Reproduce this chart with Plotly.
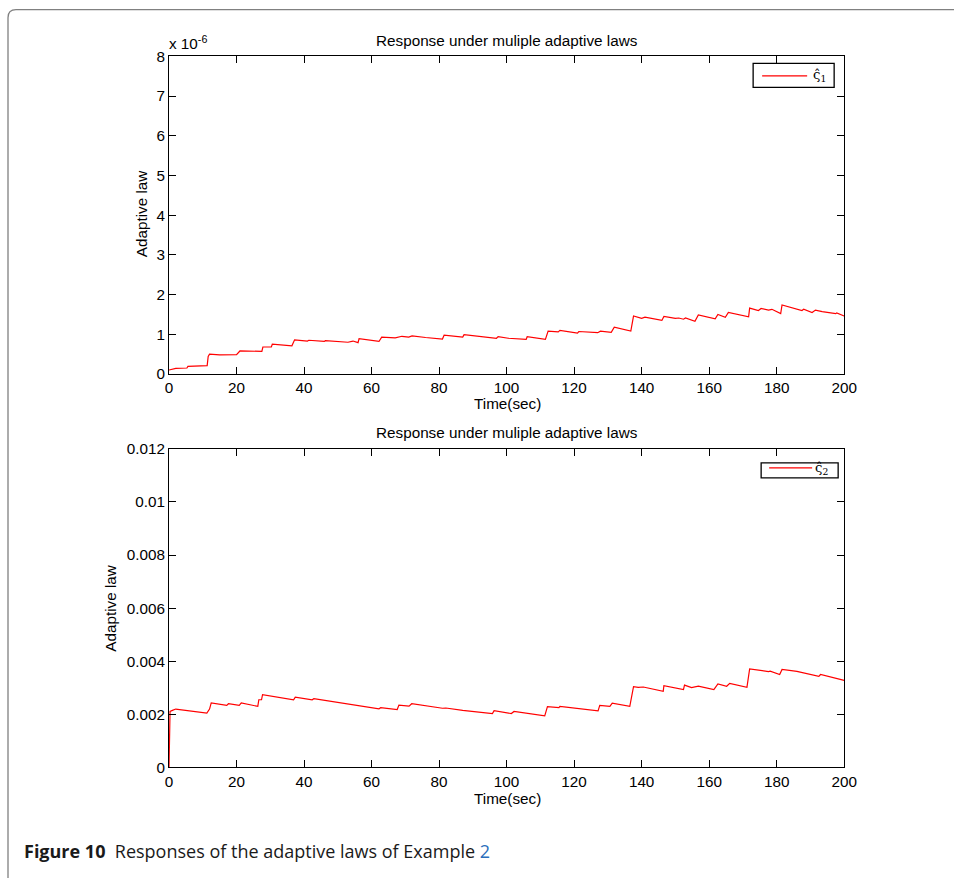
import plotly.graph_objects as go

W, H = 954, 878
# The page is displayed slightly reduced and offset; layout positions below are
# given in window pixels and converted through this mapping.
S, OX, OY = 0.982, 3.0, 8.5

# Adaptive law estimate 1 (values in units of 1e-6)
t1 = [0, 2, 5.3, 5.6, 11.3, 11.6, 12, 15, 20, 20.5, 21, 27.5, 27.8, 30.3, 30.6,
      36.4, 37.2, 41, 41.4, 46, 46.3, 53, 54.5, 56, 56.3, 62.2, 63, 67, 69, 71,
      72, 76, 81, 81.5, 87, 87.4, 93, 97, 97.5, 100.5, 105.8, 106.1, 111.5,
      112.3, 115.3, 115.8, 121, 121.4, 127, 127.8, 131, 131.9, 136.8, 137.6,
      140, 141, 146, 146.6, 150, 151, 152.4, 153, 155.8, 156.8, 161.8, 162.6,
      164.8, 165.7, 171.7, 172, 174.6, 175.4, 177.6, 178.6, 181.2, 181.6,
      187.5, 188, 190.5, 191.5, 193.5, 197.5, 197.8, 200]
v1 = [0.10, 0.14, 0.15, 0.19, 0.21, 0.44, 0.50, 0.48, 0.49, 0.53, 0.58, 0.57,
      0.68, 0.68, 0.75, 0.71, 0.86, 0.83, 0.85, 0.82, 0.84, 0.80, 0.83, 0.79,
      0.89, 0.82, 0.93, 0.91, 0.95, 0.93, 0.96, 0.92, 0.88, 0.98, 0.93, 0.99,
      0.93, 0.90, 0.94, 0.90, 0.87, 0.94, 0.87, 1.08, 1.06, 1.10, 1.03, 1.07,
      1.04, 1.08, 1.05, 1.18, 1.08, 1.46, 1.40, 1.43, 1.35, 1.45, 1.40, 1.41,
      1.38, 1.41, 1.33, 1.49, 1.39, 1.50, 1.43, 1.55, 1.44, 1.66, 1.60, 1.65,
      1.61, 1.63, 1.52, 1.74, 1.60, 1.63, 1.55, 1.61, 1.57, 1.52, 1.54, 1.46]

# Adaptive law estimate 2
t2 = [0, 0.3, 1, 2, 11.2, 12, 12.5, 17.1, 17.6, 20.8, 21.4, 26.3, 26.6, 27.4,
      27.7, 36.9, 37.4, 42.4, 42.9, 62.2, 62.7, 67.6, 68.1, 71.1, 71.9, 81, 82,
      87, 95.8, 96.3, 101.4, 102.2, 111.3, 112.1, 115.5, 115.8, 127.1, 127.6,
      130.6, 131.3, 136.5, 137, 137.6, 139, 140.5, 146.4, 146.6, 152.4, 152.7,
      154.8, 156.8, 161.4, 162.6, 165.2, 166.1, 171.2, 172, 177.6, 178.1,
      180.9, 181.6, 186, 192.5, 193, 200]
v2 = [0, 0.00211, 0.00215, 0.00220, 0.00205, 0.00220, 0.00243, 0.00234,
      0.00240, 0.00234, 0.00243, 0.00230, 0.00255, 0.00255, 0.00274, 0.00255,
      0.00265, 0.00255, 0.00259, 0.00221, 0.00225, 0.00218, 0.00235, 0.00231,
      0.00240, 0.00223, 0.00224, 0.00215, 0.00203, 0.00214, 0.00203, 0.00211,
      0.00194, 0.00229, 0.00225, 0.00230, 0.00213, 0.00234, 0.00230, 0.00242,
      0.00230, 0.00262, 0.00304, 0.00302, 0.00303, 0.00287, 0.00308, 0.00293,
      0.00310, 0.00301, 0.00306, 0.00293, 0.00315, 0.00306, 0.00317, 0.00302,
      0.00371, 0.00361, 0.00363, 0.00350, 0.00369, 0.00362, 0.00343, 0.00350,
      0.00328]

x_ticks = list(range(0, 201, 20))
y1_ticks = list(range(0, 9))
y2_ticks = [0, 0.002, 0.004, 0.006, 0.008, 0.01, 0.012]
y2_labels = ["0", "0.002", "0.004", "0.006", "0.008", "0.01", "0.012"]

TITLE = "Response under muliple adaptive laws"
RED = "#ff0000"
FS = 15 / S
AX_FONT = dict(family="Liberation Sans, Arial, sans-serif", size=FS, color="black")


def px(x):
    """Window pixel column -> paper fraction."""
    return ((x - OX) / S) / W


def py(y):
    """Window pixel row -> paper fraction."""
    return 1 - ((y - OY) / S) / H


fig = go.Figure()
fig.add_trace(go.Scatter(x=t1, y=v1, mode="lines", line=dict(color=RED, width=1.2),
                         xaxis="x", yaxis="y", showlegend=False))
fig.add_trace(go.Scatter(x=t2, y=v2, mode="lines", line=dict(color=RED, width=1.2),
                         xaxis="x2", yaxis="y2", showlegend=False))

axis_common = dict(showline=True, linecolor="black", linewidth=1, mirror="ticks",
                   ticks="inside", ticklen=7, tickcolor="black", tickwidth=1,
                   showgrid=False, zeroline=False, tickfont=AX_FONT)

fig.update_layout(
    width=W, height=H, margin=dict(l=0, r=0, t=0, b=0),
    paper_bgcolor="white", plot_bgcolor="white",
    xaxis=dict(domain=[px(168), px(843)], range=[0, 200], tickvals=x_ticks,
               anchor="y", **axis_common),
    yaxis=dict(domain=[py(374), py(56)], range=[0, 8], tickvals=y1_ticks,
               anchor="x", **axis_common),
    xaxis2=dict(domain=[px(168), px(843)], range=[0, 200], tickvals=x_ticks,
                anchor="y2", **axis_common),
    yaxis2=dict(domain=[py(768), py(449)], range=[0, 0.012], tickvals=y2_ticks,
                ticktext=y2_labels, anchor="x2", **axis_common),
)

ann = []
for ty in (40, 433):
    ann.append(dict(text=TITLE, x=px(506), y=py(ty), xref="paper", yref="paper",
                    showarrow=False, font=AX_FONT, xanchor="center", yanchor="middle"))
for ty in (404, 799):
    ann.append(dict(text="Time(sec)", x=px(506), y=py(ty), xref="paper", yref="paper",
                    showarrow=False, font=AX_FONT, xanchor="center", yanchor="middle"))
for tx, ty in ((140, 213), (110, 608)):
    ann.append(dict(text="Adaptive law", x=px(tx), y=py(ty), xref="paper", yref="paper",
                    showarrow=False, font=AX_FONT, textangle=-90,
                    xanchor="center", yanchor="middle"))
# exponent marker of the upper axis
ann.append(dict(text="x 10<sup>-6</sup>", x=px(166), y=py(42), xref="paper", yref="paper",
                showarrow=False, font=AX_FONT, xanchor="left", yanchor="middle"))

# legend boxes
shapes = []
sym_font = dict(family="DejaVu Serif, Liberation Serif, serif", size=13 / S, color="black")
legends = [
    # box x0, y0, x1, y1, sample x0, x1, y, text x, text y, label
    (752, 63, 833, 87, 761, 806, 75.5, 810, 75, "ς&#770;<sub>1</sub>"),
    (760, 463, 837, 478, 768, 811, 468, 812, 469, "ς&#770;<sub>2</sub>"),
]
for bx0, by0, bx1, by1, sx0, sx1, sy, tx, ty, lab in legends:
    shapes.append(dict(type="rect", xref="paper", yref="paper",
                       x0=px(bx0), x1=px(bx1), y0=py(by1), y1=py(by0),
                       line=dict(color="black", width=1.3), fillcolor="white", layer="above"))
    shapes.append(dict(type="line", xref="paper", yref="paper",
                       x0=px(sx0), x1=px(sx1), y0=py(sy), y1=py(sy),
                       line=dict(color=RED, width=1.2), layer="above"))
    ann.append(dict(text=lab, x=px(tx), y=py(ty), xref="paper", yref="paper",
                    showarrow=False, font=sym_font, xanchor="left", yanchor="middle"))

# rounded frame around the figure panel
fx, r = 7, 8
fy = OY + 0.7 * S
frame = (f"M {px(fx)},{py(900)} L {px(fx)},{py(fy + r)} "
         f"Q {px(fx)},{py(fy)} {px(fx + r)},{py(fy)} L {px(990)},{py(fy)}")
shapes.append(dict(type="path", xref="paper", yref="paper", path=frame,
                   line=dict(color="#808080", width=1.3)))

# caption
cap_font = dict(family="Open Sans, Noto Sans, sans-serif", size=18, color="#1a1a1a")
ann.append(dict(text="<b>Figure 10</b>  Responses of the adaptive laws of Example "
                     "<span style='color:#2a6ebb'>2</span>",
                x=px(21), y=py(852), xref="paper", yref="paper", showarrow=False,
                font=cap_font, xanchor="left", yanchor="middle"))

fig.update_layout(annotations=ann, shapes=shapes)
fig.write_html("out.html")
